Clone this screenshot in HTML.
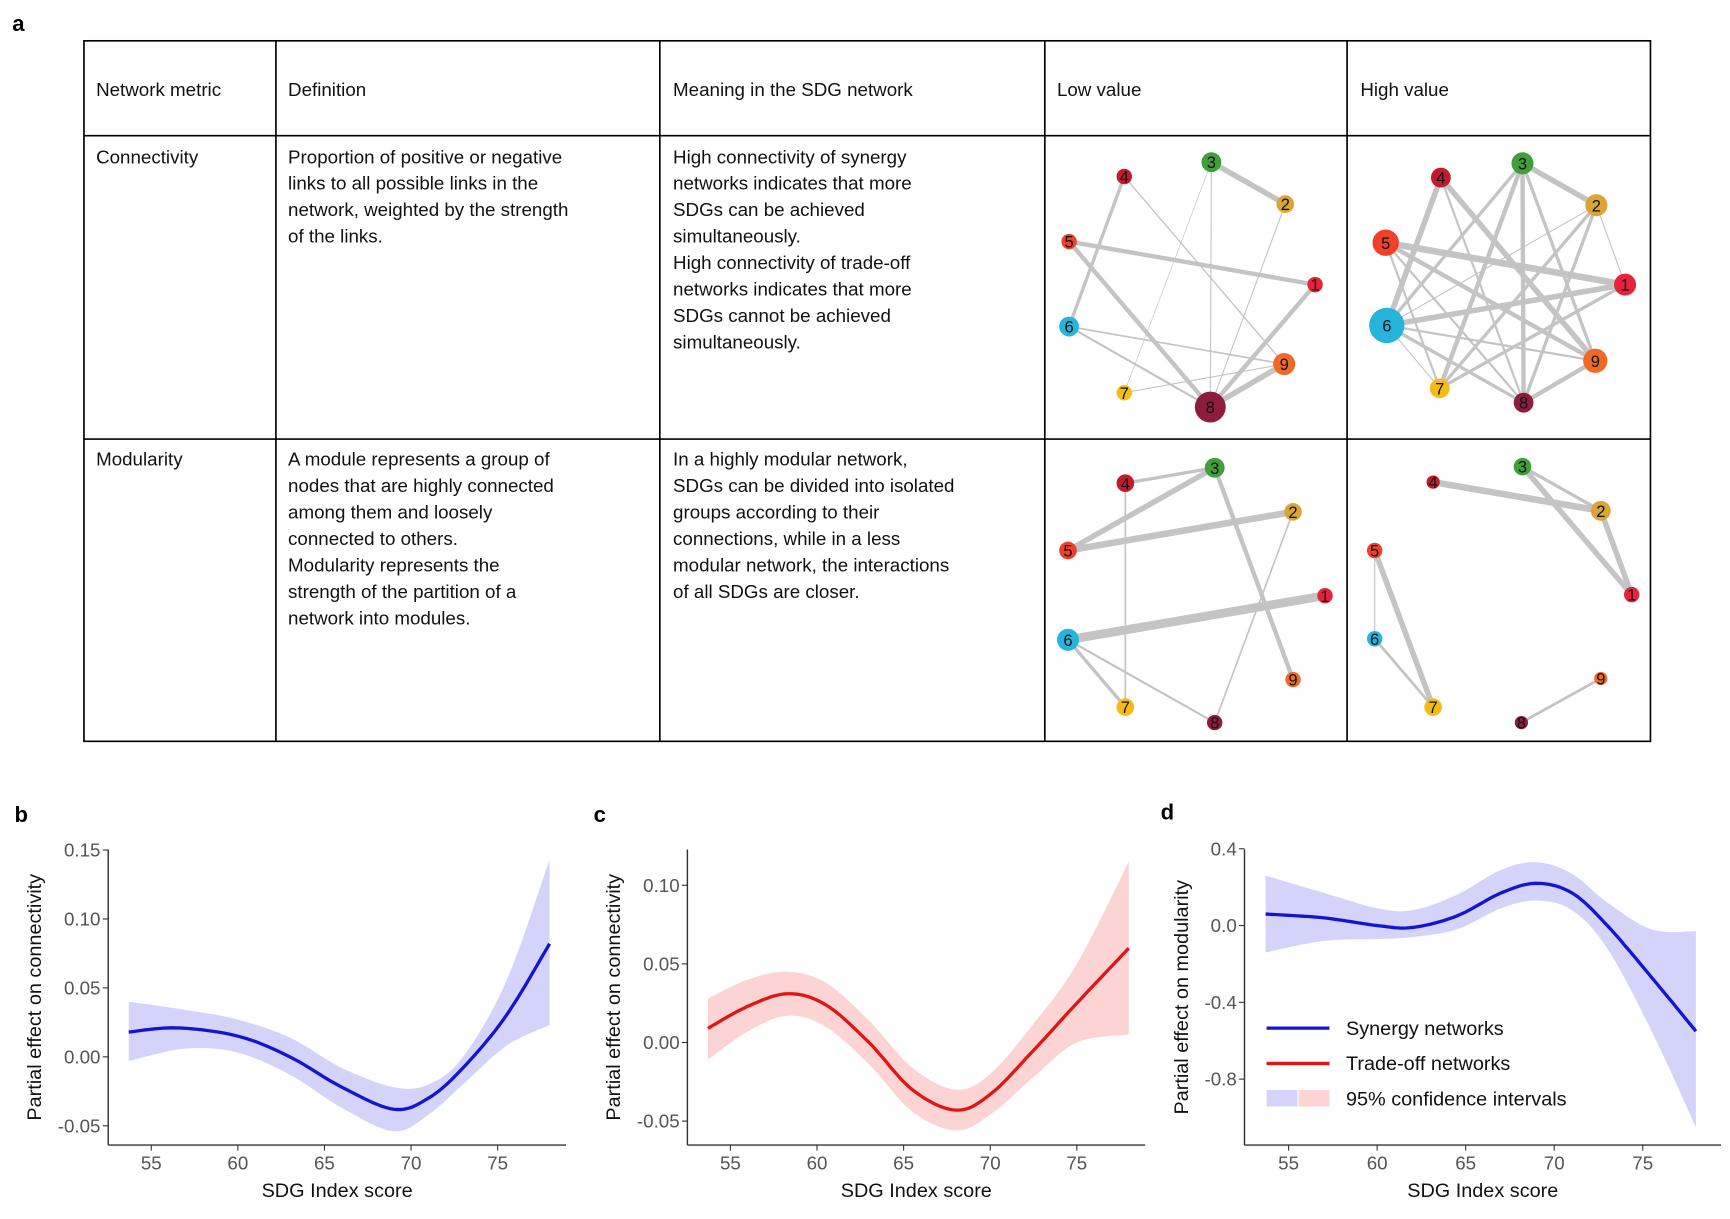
<!DOCTYPE html>
<html><head><meta charset="utf-8"><style>
html,body{margin:0;padding:0;background:#fff}
svg{display:block}
text{font-family:"Liberation Sans",Arial,sans-serif}
</style></head><body>
<svg id="s" width="1730" height="1219" viewBox="0 0 1568 1105" xmlns="http://www.w3.org/2000/svg">
<rect width="1568" height="1105" fill="#fff"/>
<g font-size="20" font-weight="bold" fill="#000">
<text x="11" y="28">a</text><text x="13" y="745">b</text><text x="538" y="745">c</text><text x="1052" y="743">d</text>
</g>
<g stroke="#000" stroke-width="1.5" fill="none">
<rect x="76" y="37" width="1420" height="635"/>
<line x1="76" y1="123" x2="1496" y2="123"/><line x1="76" y1="398" x2="1496" y2="398"/>
<line x1="250" y1="37" x2="250" y2="672"/><line x1="598" y1="37" x2="598" y2="672"/>
<line x1="947" y1="37" x2="947" y2="672"/><line x1="1221" y1="37" x2="1221" y2="672"/>
</g>
<g font-size="17" fill="#111">
<text x="87" y="87">Network metric</text><text x="261" y="87">Definition</text><text x="610" y="87">Meaning in the SDG network</text><text x="958" y="87">Low value</text><text x="1233" y="87">High value</text>
<text x="87" y="148">Connectivity</text>
<text x="261" y="148">Proportion of positive or negative</text><text x="261" y="172">links to all possible links in the</text><text x="261" y="196">network, weighted by the strength</text><text x="261" y="220">of the links.</text>
<text x="610" y="148">High connectivity of synergy</text><text x="610" y="172">networks indicates that more</text><text x="610" y="196">SDGs can be achieved</text><text x="610" y="220">simultaneously.</text><text x="610" y="244">High connectivity of trade-off</text><text x="610" y="268">networks indicates that more</text><text x="610" y="292">SDGs cannot be achieved</text><text x="610" y="316">simultaneously.</text>
<text x="87" y="422">Modularity</text>
<text x="261" y="422">A module represents a group of</text><text x="261" y="446">nodes that are highly connected</text><text x="261" y="470">among them and loosely</text><text x="261" y="494">connected to others.</text><text x="261" y="518">Modularity represents the</text><text x="261" y="542">strength of the partition of a</text><text x="261" y="566">network into modules.</text>
<text x="610" y="422">In a highly modular network,</text><text x="610" y="446">SDGs can be divided into isolated</text><text x="610" y="470">groups according to their</text><text x="610" y="494">connections, while in a less</text><text x="610" y="518">modular network, the interactions</text><text x="610" y="542">of all SDGs are closer.</text>
</g>
<g id="nets"></g>
<g id="charts"></g>
</svg>
<script>
var NS="http://www.w3.org/2000/svg";
function el(p,t,a,txt){var e=document.createElementNS(NS,t);for(var k in a)e.setAttribute(k,a[k]);if(txt!=null)e.textContent=txt;p.appendChild(e);return e;}
var col={1:"#e5243b",2:"#d9a534",3:"#3f9f3a",4:"#c5192d",5:"#f0402a",6:"#26b3dc",7:"#f5bc18",8:"#8f1c3c",9:"#f06a25"};
var nets=document.getElementById("nets");
function net(nodes,edges){
 var g=el(nets,"g",{});
 edges.forEach(function(e){var a=nodes[e[0]],b=nodes[e[1]];el(g,"line",{x1:a[0],y1:a[1],x2:b[0],y2:b[1],stroke:"#c4c4c4","stroke-width":e[2],"stroke-linecap":"round"});});
 for(var k in nodes){var n=nodes[k];el(g,"circle",{cx:n[0],cy:n[1],r:n[2],fill:col[k]});el(g,"text",{x:n[0],y:n[1]+5.5,"text-anchor":"middle","font-size":15,fill:"#111"},k);}
}
net({3:[1098,147,9],2:[1165,185,8],4:[1019,160,7],5:[969,219,7],1:[1192,258,7],6:[969,296,9],9:[1164,330,10],7:[1019,356,7],8:[1097,369,14]},
 [[3,2,5],[4,6,3],[5,1,4],[5,8,4],[6,9,1.5],[1,8,4],[8,9,5],[3,8,1],[2,8,1],[7,3,0.6],[7,9,1],[4,9,1.2],[6,8,2]]);
net({3:[1380,148,10],2:[1447,186,10],4:[1306,161,9],5:[1256,220,12],1:[1473,258,10],6:[1257,295,16],9:[1446,327,11],7:[1305,352,9],8:[1381,365,9]},
 [[3,2,5],[4,6,5],[5,1,6],[6,1,5],[5,9,4],[4,9,5],[3,7,4],[3,8,4],[3,6,3],[2,7,3],[2,8,3],[6,9,2],[7,1,3],[8,9,4],[6,8,3],[5,8,2],[2,6,1],[4,8,2],[3,9,3],[2,1,1],[5,7,2],[6,7,1]]);
net({3:[1101,424,9],4:[1020,438,8],2:[1172,464,8],5:[968,499,8],1:[1201,540,7],6:[968,580,10],9:[1172,616,7],7:[1020,641,8],8:[1101,655,7]},
 [[4,3,3],[3,5,5],[5,2,6],[6,1,8],[3,9,4],[4,7,1.5],[6,7,3],[6,8,2],[2,8,1.5]]);
net({3:[1380,423,8],4:[1299,437,6],2:[1451,463,9],5:[1246,499,7],1:[1479,539,7],6:[1246,579,7],9:[1451,615,6],7:[1299,641,8],8:[1379,655,6]},
 [[4,2,6],[3,2,3],[3,1,5],[2,1,5],[5,7,5],[5,6,1],[6,7,2.5],[8,9,2.5]]);

var ch=document.getElementById("charts");
function cr(pts,n){var out=[];for(var i=0;i<pts.length-1;i++){var p0=pts[Math.max(0,i-1)],p1=pts[i],p2=pts[i+1],p3=pts[Math.min(pts.length-1,i+2)];for(var j=0;j<n;j++){var t=j/n,t2=t*t,t3=t2*t;var f=function(a,b,c,d){return 0.5*(2*b+(-a+c)*t+(2*a-5*b+4*c-d)*t2+(-a+3*b-3*c+d)*t3);};out.push([f(p0[0],p1[0],p2[0],p3[0]),f(p0[1],p1[1],p2[1],p3[1])]);}}out.push(pts[pts.length-1]);return out;}
function panel(o){
 var X=function(v){return o.x55+(v-55)*o.xs;},Y=function(v){return o.y0-v*o.ys;};
 var g=el(ch,"g",{});
 var up=cr(o.up.map(function(p){return[X(p[0]),Y(p[1])]}),12),lo=cr(o.lo.map(function(p){return[X(p[0]),Y(p[1])]}),12);
 var d="M"+up.map(function(p){return p[0].toFixed(1)+","+p[1].toFixed(1)}).join("L")+"L"+lo.reverse().map(function(p){return p[0].toFixed(1)+","+p[1].toFixed(1)}).join("L")+"Z";
 el(g,"path",{d:d,fill:o.fill,stroke:"none"});
 var m=cr(o.m.map(function(p){return[X(p[0]),Y(p[1])]}),12);
 el(g,"path",{d:"M"+m.map(function(p){return p[0].toFixed(1)+","+p[1].toFixed(1)}).join("L"),fill:"none",stroke:o.col,"stroke-width":3});
 el(g,"line",{x1:o.ax,y1:770,x2:o.ax,y2:1038,stroke:"#333","stroke-width":1.3});
 el(g,"line",{x1:o.ax,y1:1038,x2:o.ax2,y2:1038,stroke:"#333","stroke-width":1.3});
 o.yt.forEach(function(t){var y=Y(t[0]);el(g,"line",{x1:o.ax-5,y1:y,x2:o.ax,y2:y,stroke:"#333"});el(g,"text",{x:o.ax-7,y:y+6,"text-anchor":"end","font-size":17,fill:"#555"},t[1]);});
 [55,60,65,70,75].forEach(function(v){var x=X(v);el(g,"line",{x1:x,y1:1038,x2:x,y2:1043,stroke:"#333"});el(g,"text",{x:x,y:1060,"text-anchor":"middle","font-size":17,fill:"#555"},v);});
 el(g,"text",{x:(o.ax+o.ax2)/2,y:1085,"text-anchor":"middle","font-size":18,fill:"#111"},"SDG Index score");
 el(g,"text",{x:0,y:0,transform:"translate("+o.tx+",904) rotate(-90)","text-anchor":"middle","font-size":18,fill:"#111"},o.title);
}
panel({x55:137,xs:15.7,y0:958,ys:1250,ax:98,ax2:513,tx:37,col:"#1515d0",fill:"#d4d4fb",title:"Partial effect on connectivity",
 yt:[[0.15,"0.15"],[0.1,"0.10"],[0.05,"0.05"],[0,"0.00"],[-0.05,"-0.05"]],
 m:[[53.7,0.018],[56.5,0.021],[60,0.015],[63,0.0],[66,-0.022],[69,-0.038],[71,-0.03],[73,-0.008],[75.5,0.03],[78,0.082]],
 up:[[53.7,0.04],[57,0.034],[60,0.027],[63,0.014],[66,-0.008],[69,-0.022],[71,-0.02],[73,0.0],[75.5,0.055],[78,0.143]],
 lo:[[53.7,-0.003],[57,0.006],[60,0.003],[63,-0.013],[66,-0.037],[69,-0.054],[71,-0.042],[73,-0.02],[75.5,0.008],[78,0.023]]});
panel({x55:662,xs:15.7,y0:945,ys:1425,ax:623,ax2:1038,tx:562,col:"#e01515",fill:"#fcd4d4",title:"Partial effect on connectivity",
 yt:[[0.1,"0.10"],[0.05,"0.05"],[0,"0.00"],[-0.05,"-0.05"]],
 m:[[53.7,0.009],[56,0.023],[58.3,0.031],[60.5,0.024],[63,0.0],[65.5,-0.03],[68,-0.043],[70,-0.033],[72.5,-0.005],[75,0.025],[78,0.06]],
 up:[[53.7,0.028],[56,0.04],[58.3,0.045],[60.5,0.038],[63,0.014],[65.5,-0.016],[68,-0.03],[70,-0.02],[72.5,0.012],[75,0.05],[78,0.115]],
 lo:[[53.7,-0.011],[56,0.007],[58.3,0.017],[60.5,0.01],[63,-0.014],[65.5,-0.044],[68,-0.056],[70,-0.046],[72.5,-0.022],[75,0.0],[78,0.005]]});
panel({x55:1168,xs:16.05,y0:839,ys:174,ax:1128,ax2:1560,tx:1077,col:"#1515d0",fill:"#d4d4fb",title:"Partial effect on modularity",
 yt:[[0.4,"0.4"],[0,"0.0"],[-0.4,"-0.4"],[-0.8,"-0.8"]],
 m:[[53.7,0.06],[57,0.04],[60,0.0],[62,-0.01],[64.5,0.05],[67,0.17],[69,0.22],[71,0.17],[73,0.0],[75.5,-0.27],[78,-0.55]],
 up:[[53.7,0.26],[57,0.17],[60,0.09],[62,0.08],[64.5,0.16],[67,0.29],[69,0.33],[71,0.27],[73,0.12],[75.5,-0.02],[78,-0.03]],
 lo:[[53.7,-0.14],[57,-0.08],[60,-0.07],[62,-0.06],[64.5,-0.02],[67,0.09],[69,0.13],[71,0.08],[73,-0.12],[75.5,-0.55],[78,-1.05]]});
var lg=el(ch,"g",{});
el(lg,"line",{x1:1148,y1:932,x2:1205,y2:932,stroke:"#1515d0","stroke-width":3});
el(lg,"line",{x1:1148,y1:964,x2:1205,y2:964,stroke:"#e01515","stroke-width":3});
el(lg,"rect",{x:1148,y:988,width:28,height:15,fill:"#d4d4fb"});el(lg,"rect",{x:1177,y:988,width:28,height:15,fill:"#fcd4d4"});
el(lg,"text",{x:1220,y:938,"font-size":18,fill:"#111"},"Synergy networks");
el(lg,"text",{x:1220,y:970,"font-size":18,fill:"#111"},"Trade-off networks");
el(lg,"text",{x:1220,y:1002,"font-size":18,fill:"#111"},"95% confidence intervals");
</script>
</body></html>
